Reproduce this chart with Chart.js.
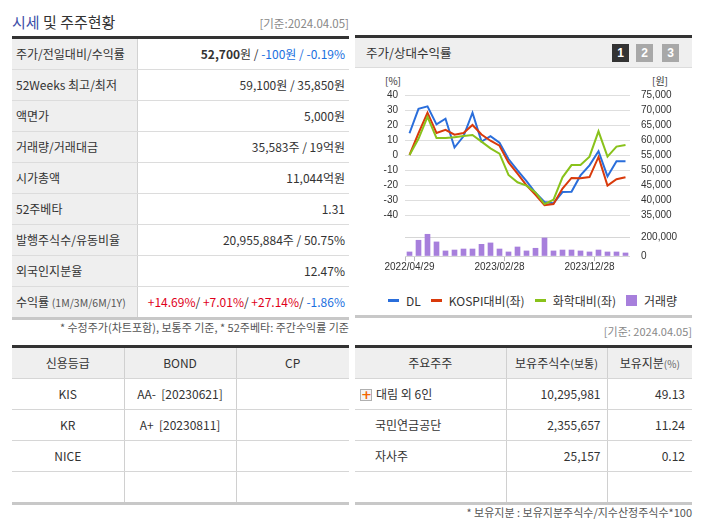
<!DOCTYPE html>
<html>
<head>
<meta charset="utf-8">
<script src="https://cdn.jsdelivr.net/npm/chart.js"></script>
<style>
  body { margin: 0; background: #fff; font-family: 'Noto Sans CJK KR', 'Noto Sans', sans-serif; color: #333; }
  #page { position: relative; width: 702px; height: 525px; overflow: hidden; }
  .abs { position: absolute; }
  table { border-collapse: collapse; table-layout: fixed; }
  td { padding: 0; font-size: 12px; line-height: 14px; white-space: nowrap; }
  .info { width: 337px; border-top: 3px solid #333; border-bottom: 3px solid #c8c8c8; }
  .info td { height: 30px; border-bottom: 1px solid #dcdcdc; }
  .info td.lb { background: #efefef; border-right: 1px solid #d2d2d2; padding-left: 4px; }
  .info td.vl { text-align: right; padding-right: 4px; }
  .grid { border-top: 3px solid #333; border-bottom: 3px solid #c8c8c8; }
  .grid td { height: 30px; border-bottom: 1px solid #d6d6d6; border-left: 1px solid #d0d0d0; text-align: center; }
  .grid td:first-child { border-left: none; }
  .grid tr.hd td { background: #efefef; }
  .blue { color: #1a6fe0; }
  .red { color: #e0001a; }
  .legend { display: flex; align-items: center; font-size: 12px; color: #333; }
  .legend .ln { display: inline-block; width: 11px; height: 3px; margin-right: 7px; }
  .legend .sq { display: inline-block; width: 11px; height: 11px; margin-right: 7px; }
  .legend span.it { margin-right: 10px; display: flex; align-items: center; }
  .btn { position: absolute; top: 44px; width: 17px; height: 18px; color: #fff; font: bold 12px/18px 'Liberation Sans', sans-serif; text-align: center; }
  .plus { display: inline-block; width: 10px; height: 10px; border: 1px solid #b0b0b0; background: #f4f4f4; color: #f26500; font: bold 13px/10px 'DejaVu Sans', sans-serif; text-align: center; vertical-align: middle; margin-right: 4px; }
</style>
</head>
<body>
<div id="page">
  <!-- left title -->
  <div class="abs" style="left:12px; top:12px; font-size:15px; line-height:20px;">
    <span style="color:#3d4fa8;">시세</span> 및 주주현황
  </div>
  <div class="abs" style="right:353px; top:15px; font-size:11.5px; color:#888;">[기준:2024.04.05]</div>

  <table class="info abs" style="left:12px; top:36px;">
    <colgroup><col style="width:125px"><col style="width:212px"></colgroup>
    <tr><td class="lb">주가/전일대비/수익률</td><td class="vl"><b>52,700</b>원 / <span class="blue">-100원 / -0.19%</span></td></tr>
    <tr><td class="lb">52Weeks 최고/최저</td><td class="vl">59,100원 / 35,850원</td></tr>
    <tr><td class="lb">액면가</td><td class="vl">5,000원</td></tr>
    <tr><td class="lb">거래량/거래대금</td><td class="vl">35,583주 / 19억원</td></tr>
    <tr><td class="lb">시가총액</td><td class="vl">11,044억원</td></tr>
    <tr><td class="lb">52주베타</td><td class="vl">1.31</td></tr>
    <tr><td class="lb">발행주식수/유동비율</td><td class="vl">20,955,884주 / 50.75%</td></tr>
    <tr><td class="lb">외국인지분율</td><td class="vl">12.47%</td></tr>
    <tr><td class="lb" style="border-bottom:none;">수익률 <span style="font-size:10.5px; color:#555;">(1M/3M/6M/1Y)</span></td><td class="vl" style="border-bottom:none;"><span class="red">+14.69%</span>/ <span class="red">+7.01%</span>/ <span class="red">+27.14%</span>/ <span class="blue">-1.86%</span></td></tr>
  </table>
  <div class="abs" style="right:353px; top:319px; font-size:11px; color:#555;">* 수정주가(차트포함), 보통주 기준, * 52주베타: 주간수익률 기준</div>

  <!-- chart panel -->
  <div class="abs" style="left:355px; top:35px; width:337px; height:33px; border-top:3px solid #333; background:#efefef; border-bottom:1px solid #dcdcdc; box-sizing:border-box;"></div>
  <div class="abs" style="left:366px; top:44px; font-size:12.5px; line-height:18px;">주가/상대수익률</div>
  <div class="btn" style="left:612px; background:#333;">1</div>
  <div class="btn" style="left:636px; background:#a8a8a8;">2</div>
  <div class="btn" style="left:662px; background:#a8a8a8;">3</div>
  <div class="abs" style="left:385px; top:73px; font-size:10px; color:#333;">[%]</div>
  <div class="abs" style="left:652px; top:73px; font-size:10px; color:#333;">[원]</div>
  <canvas id="mainChart" class="abs" width="337" height="140" style="left:355px; top:85px;"></canvas>
  <canvas id="volChart" class="abs" width="337" height="51" style="left:355px; top:225px;"></canvas>
  <div class="legend abs" style="left:388px; top:292px; height:16px;">
    <span class="it"><span class="ln" style="background:#2a6edb;"></span>DL</span>
    <span class="it"><span class="ln" style="background:#d93a0b;"></span>KOSPI대비(좌)</span>
    <span class="it"><span class="ln" style="background:#89c21b;"></span>화학대비(좌)</span>
    <span class="it"><span class="sq" style="background:#a77fdc;"></span>거래량</span>
  </div>
  <div class="abs" style="left:355px; top:315px; width:337px; height:3px; background:#c8c8c8;"></div>
  <div class="abs" style="right:10px; top:323px; font-size:11px; color:#888;">[기준: 2024.04.05]</div>

  <!-- credit table -->
  <table class="grid abs" style="left:12px; top:345px; width:337px;">
    <colgroup><col style="width:112px"><col style="width:112px"><col style="width:113px"></colgroup>
    <tr class="hd"><td>신용등급</td><td>BOND</td><td>CP</td></tr>
    <tr><td>KIS</td><td>AA-&nbsp;&nbsp;[20230621]</td><td></td></tr>
    <tr><td>KR</td><td>A+&nbsp;&nbsp;[20230811]</td><td></td></tr>
    <tr><td>NICE</td><td></td><td></td></tr>
    <tr><td style="border-bottom:none;"></td><td style="border-bottom:none;"></td><td style="border-bottom:none;"></td></tr>
  </table>

  <!-- shareholder table -->
  <table class="grid abs" style="left:355px; top:345px; width:337px;">
    <colgroup><col style="width:151px"><col style="width:101px"><col style="width:85px"></colgroup>
    <tr class="hd"><td>주요주주</td><td>보유주식수<span style="font-size:11px;">(보통)</span></td><td>보유지분<span style="font-size:10px; color:#666;">(%)</span></td></tr>
    <tr><td style="text-align:left; padding-left:5px;"><span class="plus">+</span>대림 외 6인</td><td style="text-align:right; padding-right:6px;">10,295,981</td><td style="text-align:right; padding-right:7px;">49.13</td></tr>
    <tr><td style="text-align:left; padding-left:20px;">국민연금공단</td><td style="text-align:right; padding-right:6px;">2,355,657</td><td style="text-align:right; padding-right:7px;">11.24</td></tr>
    <tr><td style="text-align:left; padding-left:20px;">자사주</td><td style="text-align:right; padding-right:6px;">25,157</td><td style="text-align:right; padding-right:7px;">0.12</td></tr>
    <tr><td style="border-bottom:none;"></td><td style="border-bottom:none;"></td><td style="border-bottom:none;"></td></tr>
  </table>
  <div class="abs" style="right:10px; top:504px; font-size:11px; color:#555;">* 보유지분 : 보유지분주식수/지수산정주식수*100</div>
</div>

<script>
const dates = ['2022/04/29','2022/05/31','2022/06/30','2022/07/29','2022/08/31','2022/09/30','2022/10/31','2022/11/30','2022/12/29','2023/01/31','2023/02/28','2023/03/31','2023/04/28','2023/05/31','2023/06/30','2023/07/31','2023/08/31','2023/09/27','2023/10/31','2023/11/30','2023/12/28','2024/01/31','2024/02/29','2024/03/29','2024/04/05'];
const dlReturn = [14.5, 30.8, 32.4, 20.4, 24.2, 5, 12.5, 28.2, 9, 12.6, 8.2, -2.7, -10.2, -17.4, -25.2, -31.3, -32.1, -24.7, -24.5, -13.6, -6.9, 2.5, -14.3, -4.2, -4.2];
const kospiRel = [0, 14.5, 28.2, 14.7, 16.8, 13.5, 14.7, 20, 13.7, 9.5, 6.2, -5, -12.4, -20.2, -26.6, -33.4, -32.7, -22.4, -15.3, -15.5, -14.7, -1.3, -20.4, -16.2, -14.8];
const chemRel = [0, 10.8, 25.5, 11.3, 11.3, 11.9, 12.6, 13.3, 8.9, 4.4, 0.9, -13.3, -18.2, -20.4, -25, -32.7, -29.8, -14.9, -6.7, -6.7, -1.1, 15.8, -1.1, 5.6, 6.7];
const volume = [44000, 171000, 236000, 153000, 55000, 65000, 76000, 76000, 127000, 142000, 76000, 44000, 98000, 55000, 84000, 196000, 55000, 65000, 65000, 55000, 44000, 65000, 44000, 44000, 33000];
const dateTicks = [0, 10, 20];
const volTicks = [0, 200000];

const tickFont = { family: "'Liberation Sans', sans-serif", size: 10 };

function lineSet(label, data, color) {
    return { label: label, data: data, borderColor: color, borderWidth: 2, pointRadius: 0, tension: 0, fill: false };
}

// fixed axis width, and no extra vertical padding from the tick labels
function fixAxis(width) {
    return s => { s.width = width; s.paddingTop = 0; s.paddingBottom = 0; };
}

const mainChart = new Chart(document.getElementById('mainChart'), {
    type: 'line',
    data: {
        labels: dates,
        datasets: [
            lineSet('화학대비(좌)', chemRel, '#89c21b'),
            lineSet('KOSPI대비(좌)', kospiRel, '#d93a0b'),
            lineSet('DL', dlReturn, '#2a6edb')
        ]
    },
    options: {
        responsive: false,
        animation: false,
        layout: { padding: { top: 10, bottom: 10 } },
        plugins: { legend: { display: false }, tooltip: { enabled: false } },
        scales: {
            x: { display: false, offset: true },
            y: {
                position: 'left', min: -40, max: 40,
                ticks: { stepSize: 10, autoSkip: false, color: '#333', font: tickFont, padding: 7 },
                grid: { color: '#dedede', drawTicks: false },
                border: { display: false },
                afterFit: fixAxis(50)
            },
            yPrice: {
                position: 'right', min: 35000, max: 75000,
                ticks: { stepSize: 5000, autoSkip: false, color: '#333', font: tickFont, padding: 11,
                    callback: v => v.toLocaleString('en-US') },
                grid: { display: false, drawTicks: false },
                border: { display: false },
                afterFit: fixAxis(62)
            }
        }
    }
});

const volChart = new Chart(document.getElementById('volChart'), {
    type: 'bar',
    data: {
        labels: dates,
        datasets: [{ label: '거래량', data: volume, backgroundColor: '#a77fdc', barThickness: 5, yAxisID: 'yVol' }]
    },
    options: {
        responsive: false,
        animation: false,
        layout: { padding: { top: 8, left: 50 } },
        plugins: { legend: { display: false }, tooltip: { enabled: false } },
        scales: {
            x: {
                ticks: { autoSkip: false, maxRotation: 0, color: '#333', font: tickFont, padding: 0,
                    callback: (v, i) => dateTicks.includes(i) ? dates[i] : '' },
                grid: { offset: true, drawOnChartArea: false, tickLength: 5,
                    color: ctx => [0, 1, 11, 21].includes(ctx.index) ? '#bbb' : 'rgba(0,0,0,0)' },
                border: { display: false },
                afterFit: s => { s.height = 20; }
            },
            yVol: {
                position: 'right', min: 0, max: 250000,
                afterBuildTicks: s => { s.ticks = volTicks.map(v => ({ value: v })); },
                ticks: { autoSkip: false, color: '#333', font: tickFont, padding: 11,
                    callback: v => v.toLocaleString('en-US') },
                grid: { color: '#d6d6d6', drawTicks: false },
                border: { display: false },
                afterFit: fixAxis(62)
            }
        }
    }
});
</script>
</body>
</html>
